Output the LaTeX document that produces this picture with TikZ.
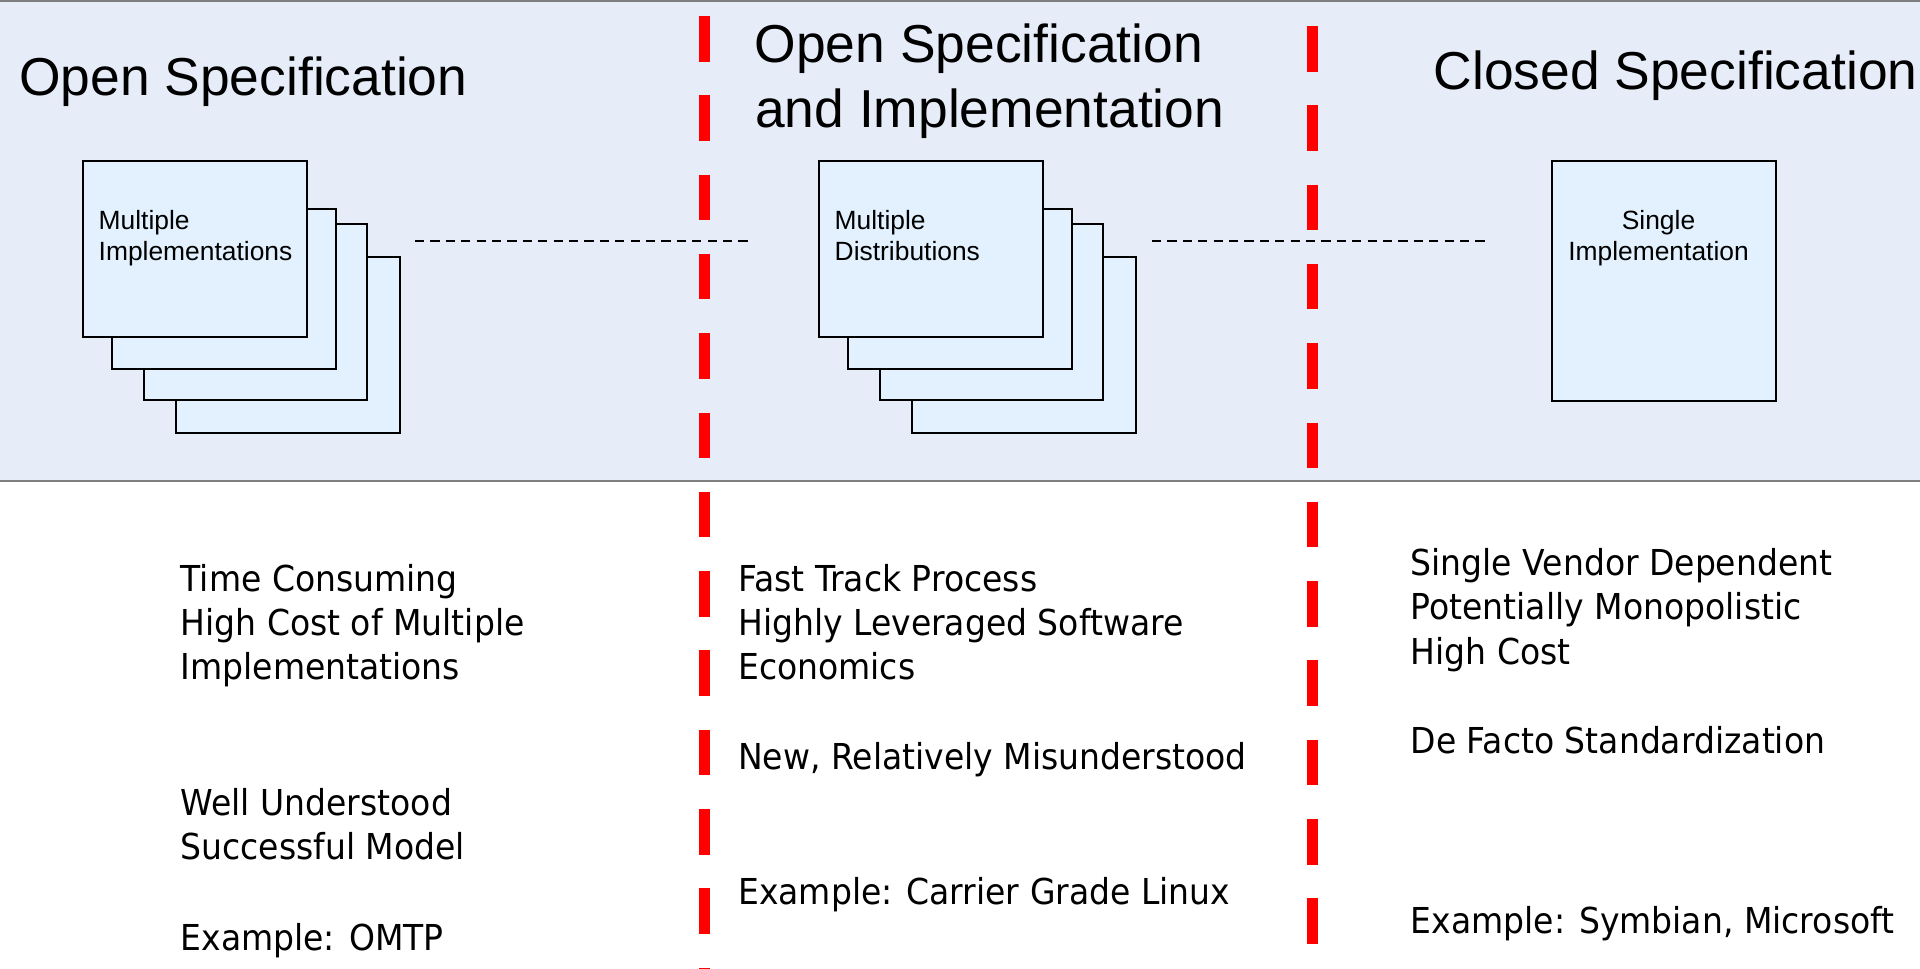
\documentclass[tikz,border=0pt]{standalone}
\usepackage{fontspec}
\setmainfont{Liberation Sans}
\newfontfamily\tahoma[FakeStretch=0.925]{DejaVu Sans}
\definecolor{band}{HTML}{E6EDF8}
\definecolor{boxfill}{HTML}{E2F1FD}
\definecolor{bordergray}{HTML}{7F7F7F}
\begin{document}
\begin{tikzpicture}[x=1pt,y=-1pt,
  card/.style={draw=black, line width=2pt, fill=boxfill, anchor=north west, inner sep=0pt, outer sep=0pt},
  title/.style={font=\fontsize{53.4}{65}\selectfont, anchor=base west, inner sep=0pt},
  boxtext/.style={font=\fontsize{26.4}{31}\selectfont, anchor=base west, inner sep=0pt},
  body/.style={font=\tahoma\fontsize{35.7}{44.3}\selectfont, anchor=base west, inner sep=0pt},
  divider/.style={draw=red, line width=11pt, dash pattern=on 45.5pt off 33.8pt},
  link/.style={draw=black, line width=2pt, dash pattern=on 9.2pt off 6.2pt}]

\useasboundingbox (0,0) rectangle (1920,969);
\fill[white] (0,0) rectangle (1920,969);
\fill[band] (0,0) rectangle (1920,481);
\draw[bordergray, line width=2pt] (0,1) -- (1920,1);
\draw[bordergray, line width=2pt] (0,481) -- (1920,481);

% titles
\node[title] (t1) at (19,95) {Open Specification};
\node[title] (t2a) at (754.5,62) {Open Specification};
\node[title] (t2b) at (755,127) {and Implementation};
\node[title] (t3) at (1433.5,89) {Closed Specification};

% group 1 cards
\node[card, minimum width=224pt, minimum height=176pt] (g1d) at (176,257) {};
\node[card, minimum width=223pt, minimum height=176pt] (g1c) at (144,224) {};
\node[card, minimum width=224pt, minimum height=160pt] (g1b) at (112,209) {};
\node[card, minimum width=224pt, minimum height=176pt] (g1a) at (83,161) {};
\node[boxtext] (g1l1) at (98.5,229) {Multiple};
\node[boxtext] (g1l2) at (98.5,260) {Implementations};

% group 2 cards
\node[card, minimum width=224pt, minimum height=176pt] (g2d) at (912,257) {};
\node[card, minimum width=223pt, minimum height=176pt] (g2c) at (880,224) {};
\node[card, minimum width=224pt, minimum height=160pt] (g2b) at (848,209) {};
\node[card, minimum width=224pt, minimum height=176pt] (g2a) at (819,161) {};
\node[boxtext] (g2l1) at (834.5,229) {Multiple};
\node[boxtext] (g2l2) at (834.5,260) {Distributions};

% single card
\node[card, minimum width=224pt, minimum height=240pt] (g3) at (1552,161) {};
\node[boxtext, anchor=base] (g3l1) at (1658.5,229) {Single};
\node[boxtext, anchor=base] (g3l2) at (1658.5,260) {Implementation};

% dashed links
\coordinate (l1s) at (415,241);
\coordinate (l1e) at (747.6,241);
\coordinate (l2s) at (1152,241);
\coordinate (l2e) at (1484.6,241);
\draw[link] (l1s) -- (l1e);
\draw[link] (l2s) -- (l2e);

% red dividers
\coordinate (d1s) at (704,16);
\coordinate (d1e) at (704,969);
\coordinate (d2s) at (1312,26);
\coordinate (d2e) at (1312,946.5);
\draw[divider] (d1s) -- (d1e);
\draw[divider] (d2s) -- (d2e);

% body text column 1
\node[body] (a1) at (180.5,591.5) {Time Consuming};
\node[body] (a2) at (180.5,635.5) {High Cost of Multiple};
\node[body] (a3) at (180.5,679.5) {Implementations};
\node[body] (a4) at (180.5,815) {Well Understood};
\node[body] (a5) at (180.5,859.5) {Successful Model};
\node[body] (a6) at (180.5,950) {Example: OMTP};

% body text column 2
\node[body] (b1) at (738,591.5) {Fast Track Process};
\node[body] (b2) at (738,635.5) {Highly Leveraged Software};
\node[body] (b3) at (738,679.5) {Economics};
\node[body] (b4) at (738,769.5) {New, Relatively Misunderstood};
\node[body] (b5) at (738,904) {Example: Carrier Grade Linux};

% body text column 3
\node[body] (c1) at (1410.5,575) {Single Vendor Dependent};
\node[body] (c2) at (1410.5,619) {Potentially Monopolistic};
\node[body] (c3) at (1410.5,664) {High Cost};
\node[body] (c4) at (1410.5,753) {De Facto Standardization};
\node[body] (c5) at (1410.5,933) {Example: Symbian, Microsoft};
\end{tikzpicture}
\end{document}
